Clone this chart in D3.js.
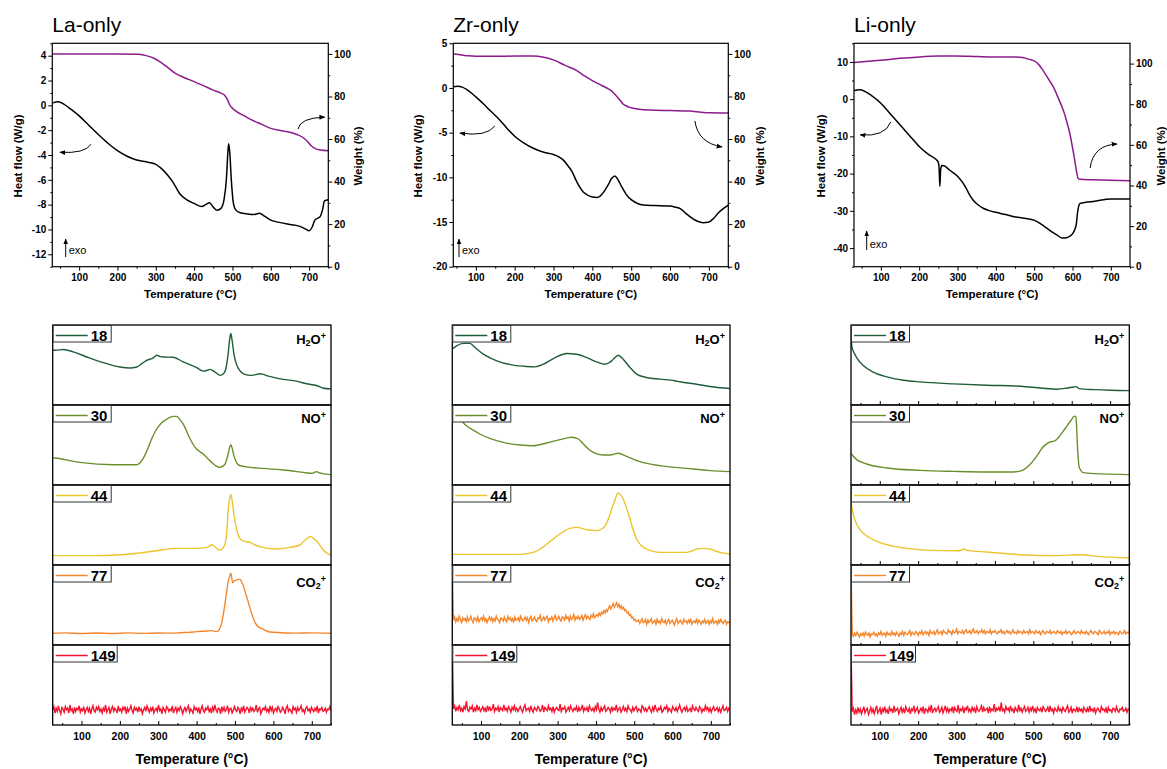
<!DOCTYPE html>
<html>
<head>
<meta charset="utf-8">
<script src="https://cdn.jsdelivr.net/npm/d3@7"></script>
<style>
body { margin: 0; background: #fff; }
text { font-family: Arial, "Liberation Sans", sans-serif; }
</style>
</head>
<body>
<svg id="fig" width="1167" height="769"></svg>
<script>
// ---- axis ticks ----
var tempMajor = [100, 200, 300, 400, 500, 600, 700];
var tempMinor = [50, 150, 250, 350, 450, 550, 650, 750];
var weightMajor = [0, 20, 40, 60, 80, 100];
var weightMinor = [10, 30, 50, 70, 90];
var laHeatMajor = [-12, -10, -8, -6, -4, -2, 0, 2, 4];
var laHeatMinor = [-13, -11, -9, -7, -5, -3, -1, 1, 3, 5];
var zrHeatMajor = [-20, -15, -10, -5, 0, 5];
var zrHeatMinor = [-17.5, -12.5, -7.5, -2.5, 2.5];
var liHeatMajor = [-40, -30, -20, -10, 0, 10];
var liHeatMinor = [-45, -35, -25, -15, -5, 5, 15];

// ---- TGA / DSC  [temperature, value] ----
var laHeat = [[32,0.2],[45,0.3],[60,0.1],[80,-0.35],[100,-0.85],[125,-1.6],[150,-2.35],[175,-3.05],[200,-3.65],[225,-4.1],[250,-4.4],[275,-4.55],[290,-4.65],[300,-4.75],[315,-5.1],[330,-5.6],[345,-6.2],[362,-7.1],[380,-7.6],[400,-7.9],[420,-8.15],[430,-8.0],[440,-7.85],[450,-8.2],[460,-8.45],[470,-8.3],[478,-7.6],[484,-6.0],[488,-3.8],[490,-3.1],[493,-3.8],[497,-6.0],[502,-7.8],[508,-8.4],[520,-8.65],[540,-8.75],[555,-8.8],[570,-8.7],[585,-8.95],[600,-9.25],[625,-9.45],[650,-9.6],[676,-9.75],[690,-9.95],[700,-10.1],[708,-9.8],[715,-9.25],[722,-9.1],[728,-9.0],[735,-8.4],[740,-7.7],[750,-7.6]];
var laWeight = [[30,100],[100,100],[200,100],[255,99.8],[275,99.2],[300,97.5],[325,94.5],[350,91],[375,88.8],[400,87],[425,85],[450,83],[470,81.6],[480,80.5],[487,78.5],[493,76],[500,74.5],[510,73],[530,71],[550,69],[575,67],[600,65],[625,64],[650,63.2],[670,62],[685,60.6],[695,59],[705,57],[715,55.6],[730,54.8],[750,54.5]];
var zrHeat = [[42,0.15],[54,0.2],[65,0.1],[76,-0.15],[100,-1],[120,-1.8],[136,-2.5],[162,-3.6],[180,-4.5],[200,-5.4],[225,-6.2],[248,-6.75],[275,-7.2],[300,-7.45],[315,-7.75],[326,-8.1],[337,-8.7],[347,-9.3],[360,-10.5],[376,-11.6],[390,-12.05],[400,-12.2],[412,-12.25],[420,-12.1],[430,-11.6],[440,-10.9],[450,-10.1],[458,-9.85],[465,-10.2],[475,-11.0],[487,-11.9],[500,-12.5],[515,-12.9],[532,-13.1],[560,-13.15],[600,-13.2],[615,-13.35],[626,-13.5],[640,-14.0],[651,-14.4],[665,-14.8],[685,-15.07],[700,-15],[712,-14.6],[724,-14],[737,-13.5],[750,-13.1]];
var zrWeight = [[42,100],[60,99.6],[80,99.1],[100,98.9],[150,98.9],[200,99],[248,99],[275,98.4],[300,97.2],[330,94.6],[360,92.2],[380,89.7],[400,87.5],[420,85.6],[437,84],[450,82.5],[459,80.8],[470,78.5],[479,76.5],[490,75.3],[500,74.7],[520,74],[550,73.6],[600,73.4],[650,73.2],[680,72.6],[700,72.3],[750,72.2]];
var liHeat = [[30,2.3],[45,2.5],[58,2.1],[75,1.0],[100,-1.1],[125,-4.0],[150,-6.9],[175,-9.8],[200,-12.7],[225,-14.9],[245,-16.3],[250,-17.0],[252,-18.5],[254,-23.4],[256,-19],[259,-17.8],[265,-17.9],[280,-19.1],[300,-20.7],[315,-22.6],[324,-24.2],[332,-25.8],[340,-27],[355,-28.5],[367,-29.3],[385,-30],[400,-30.4],[425,-31],[445,-31.5],[475,-32],[500,-32.5],[517,-33.5],[532,-34.6],[545,-35.6],[558,-36.4],[574,-37.3],[585,-37.2],[593,-36.8],[600,-36.2],[606,-35],[610,-33.5],[613,-30.6],[616,-28.8],[620,-28],[635,-27.7],[654,-27.5],[700,-26.8],[750,-26.8]];
var liWeight = [[30,100.5],[60,101],[98,101.6],[150,102.6],[202,103.3],[250,103.7],[297,103.8],[350,103.5],[400,103.3],[445,103.3],[470,103],[480,102.5],[490,102],[500,101.3],[512,99.5],[523,96.7],[537,92.5],[550,88.5],[563,83],[576,77],[585,71.5],[593,65.6],[604,54.5],[615,43.4],[619,43],[650,42.8],[700,42.6],[750,42.3]];

// ---- MS ion currents (a.u., 0-100 of each strip) ----
// smooth traces as [temperature, value]; noisy traces as values sampled evenly over 25-750 °C
var massNumbers = ["18", "30", "44", "77", "149"];
var la18 = [[25,68.5],[31,68.5],[53,69.3],[79,66.4],[114,60],[140,55.5],[166,51.7],[200,47.5],[226,46.2],[244,47.5],[258,52],[270,55.9],[287,58.8],[296,62.2],[305,60.5],[313,60],[339,59.7],[365,53.8],[400,46.6],[417,42.4],[428,43.5],[435,44.5],[448,41.2],[461,37],[470,39],[476,45],[482,64],[486,82],[489,89.5],[492,82],[497,64],[503,52],[509,45.4],[522,39],[543,37],[565,39],[590,35.7],[626,32],[660,29.8],[686,26.5],[712,24.4],[730,21],[750,20.2]];
var la30 = [[25,34],[31,33.75],[96,28.3],[183,25.4],[244,25.4],[257,30.4],[266,38],[274,47],[285,60],[296,70],[307,77],[318,81],[339,85.8],[348,85.8],[356,82],[365,76],[383,57.5],[396,47],[417,38.75],[439,28.3],[450,24],[459,22],[468,23.5],[474,26],[479,33],[482,38.75],[486,47],[489,50.4],[492,47],[497,36.7],[503,29],[509,25],[539,22],[574,20.8],[626,18.75],[678,15.8],[699,14.6],[706,15.5],[712,16.7],[718,15.5],[725,14.6],[750,13]];
var la44 = [[25,11.7],[140,11.7],[226,13.75],[296,17.9],[348,20.8],[400,20.8],[426,22],[434,24],[439,25.4],[448,22.9],[455,19.5],[461,18.75],[468,21],[474,26.25],[479,45],[482,68],[486,84],[489,88],[492,82],[497,63.75],[503,47],[509,36.7],[517,31],[526,29.6],[539,28.3],[552,25],[565,22.9],[600,20],[643,22],[669,25],[680,30],[686,32.5],[693,35],[698,35.8],[705,33],[712,30.4],[722,24],[730,18.75],[740,14.5],[750,12.5]];
var la77 = [[25,14.6],[60,15.2],[100,14.3],[140,15.0],[180,14.4],[220,15.1],[260,14.5],[300,15.0],[340,14.8],[357,15.4],[380,15.8],[400,16.7],[426,17.5],[439,18],[452,16.7],[458,19],[465,27],[470,40],[474,52],[478,66],[482,79],[486,86],[489,89.6],[491,85],[494,78],[498,80],[503,81],[508,82],[513,82],[518,78],[522,74],[526,66.7],[532,58],[539,45.8],[547,34],[556,25],[565,21.5],[574,19.6],[590,16.25],[620,15.4],[660,14.8],[700,15.2],[750,14.6]];
var la149 = [19,23,15,21,17,24,18,14,22,20,16,23,19,21,15,25,18,20,14,22,17,21,19,24,16,20,18,23,15,19,22,17,21,14,20,24,18,16,22,19,23,17,20,15,21,18,25,16,19,22,14,20,23,17,21,19,15,24,18,20,16,22,19,23,14,21,17,20,24,18,15,22,19,21,16,23,18,20,14,19,22,17,24,20,16,21,18,23,15,19,21,17,25,18,20,14,22,19,16,23,21,17,20,18,24,15,19,22,16,21,18,23,20,14,19,22,17,21,24,16,20,18,15,23,19,21,17,22,14,20,24,18,16,21,19,23,17,20,15,22,18,25,19,16,21,20,14,23,18,22,17,19,24,16,20,21,15,18,23,19,17,22,20,14,21,18,24,16,19,22,20,15,23,18,21,17,19,25,16,20,22,14,18,21,19,23,17,20,16,24,18,22,15,19,21,17,23,20,16,18,22,19,14,21,24,17,20,18,15,23,19,21,16,22,18,20,24,17,19,15,21,23,18,20,16,22,19,17,21,18,24,15,20,19,22,17,18,21,16,20,19,23,18];

var zr18 = [[25,70],[36,73.9],[54,77],[71,77],[84,71.8],[106,63.5],[141,55.2],[184,49.8],[219,48.1],[241,47.7],[263,51],[289,58],[324,64.3],[350,63.5],[376,59.3],[402,54],[424,51],[433,52.5],[441,55.2],[450,59.5],[458,62.2],[464,60.5],[471,57.3],[489,46.9],[506,38.6],[532,34.4],[567,32.4],[606,30.3],[619,29],[663,26],[698,23.2],[724,21.6],[750,20.7]];
var zr30 = [[25,90],[45,82],[62,74],[80,68.5],[97,63.75],[125,58],[158,53.3],[202,50],[236,49],[271,52.5],[306,56.7],[337,59.6],[354,57.5],[365,52.5],[376,47],[393,40.8],[419,37.5],[437,37.5],[458,39.6],[480,35.8],[515,29.2],[567,24.2],[637,20.8],[698,18],[750,16.7]];
var zr44 = [[25,13.3],[202,13.3],[236,15.8],[255,20],[271,26],[290,33],[306,38.75],[332,45.8],[350,47],[376,44],[402,43],[415,45],[424,49],[433,58],[441,70],[450,82],[458,90],[464,88],[471,82.5],[480,71],[489,57.5],[497,44],[506,32.5],[518,24.5],[532,20],[550,17],[567,15.8],[637,15.8],[650,17.5],[663,20],[680,20.8],[698,20],[712,17.5],[724,15.8],[750,13.75]];
var zr77 = [100,31,35,29,33,30,36,32,28,34,31,33,29,35,30,32,36,31,28,34,33,30,35,29,32,34,31,36,30,33,28,32,35,31,34,29,33,30,36,32,31,28,34,33,30,35,31,29,36,32,34,30,33,28,35,31,32,34,29,36,33,30,32,35,31,34,28,33,36,30,32,35,31,29,34,33,37,30,32,35,31,34,36,29,33,32,35,30,34,37,31,33,36,32,30,35,34,31,37,33,35,30,36,32,34,38,31,35,33,36,32,34,37,31,35,38,33,36,34,32,37,35,39,34,36,38,36,40,37,41,39,43,40,44,42,46,49,45,48,52,47,50,53,48,51,46,49,45,47,43,44,40,41,37,38,34,35,31,32,29,30,31,27,30,33,28,29,32,26,31,28,30,33,27,29,31,26,32,28,30,27,33,29,28,31,26,30,32,27,29,31,28,25,30,33,27,29,31,28,26,32,29,30,27,31,28,33,26,29,30,28,32,27,31,29,26,30,28,32,27,29,31,26,30,28,33,27,29,30,26,31,28,32,29,27,30,31,26,29,28,30];
var zr149 = [100,20,24,17,22,19,25,18,21,16,23,20,30,19,17,22,20,24,16,21,18,25,19,22,17,20,23,18,21,16,24,19,22,18,20,26,17,21,19,23,16,22,20,18,25,19,21,17,23,20,16,22,19,24,18,21,17,20,23,19,16,22,25,18,20,21,17,24,19,16,22,20,18,23,21,17,19,25,16,22,20,18,24,19,21,17,23,16,20,22,19,18,26,17,21,20,23,16,19,22,18,24,20,17,21,19,23,16,22,18,20,25,17,21,19,22,16,24,20,18,21,17,23,19,28,20,16,22,18,21,24,17,19,22,20,16,23,18,21,19,25,17,20,22,16,19,23,18,21,17,24,20,19,16,22,18,21,23,17,20,19,16,24,22,18,21,17,20,23,19,16,22,18,25,20,17,21,19,23,16,18,22,20,24,17,21,19,16,23,20,18,22,17,21,25,19,16,20,22,18,23,17,19,21,16,24,20,18,22,19,17,23,21,16,20,18,24,19,22,17,21,16,20,23,18,19,22,17,21,16,20,24,18,19,22,17,21,19];

var li18 = [[25,96],[27,73.6],[31,67.4],[40,59],[57,49.4],[83,41],[118,35.1],[162,31],[205,28.9],[293,26.4],[380,24.7],[467,23.4],[519,21.3],[563,19.7],[589,21.3],[605,22.5],[611,23],[619,20.5],[659,19.2],[702,18.4],[750,18]];
var li30 = [[25,40],[31,36],[40,31.7],[66,26.25],[118,21.25],[205,18.3],[293,17],[380,16.25],[449,16.25],[462,17],[475,19.2],[490,25],[502,31.7],[513,39],[523,46.25],[532,50.5],[541,53.3],[550,54.5],[558,55.8],[565,59],[571,63],[584,71.25],[593,77.5],[600,82],[606,85.8],[611,85.8],[613,70],[615,48],[617,33],[619,23.3],[623,19],[628,15.8],[659,14.2],[750,13]];
var li44 = [[25,80],[27,73.3],[35,56.7],[49,44],[75,33.75],[118,25.4],[170,20.8],[232,18.3],[301,17.9],[312,18.5],[319,20],[327,18.3],[380,16.25],[467,12.9],[554,11.7],[624,12.9],[667,10.8],[750,8.75]];
var li77 = [100,14,11,15,12,16,13,10,14,12,15,11,16,13,12,15,10,14,13,16,12,14,11,15,13,17,12,14,15,11,16,13,14,12,17,13,15,12,16,14,11,15,13,17,12,16,14,13,15,18,12,16,14,13,17,15,12,16,14,18,13,15,17,14,16,12,18,15,14,17,13,16,19,14,15,17,13,18,16,15,14,19,16,17,13,18,15,16,20,14,17,16,15,18,14,17,19,15,16,18,14,17,20,15,16,18,14,17,16,19,15,18,14,17,16,15,19,14,17,16,18,15,14,17,16,19,15,17,14,16,18,15,17,14,16,19,15,16,14,18,15,17,16,14,18,15,16,17,14,19,15,17,16,14,18,16,15,17,13,16,18,15,14,17,16,15,18,14,16,17,15,14,18,16,15,17,13,16,15,18,14,16,17,15,13,16,18,14,15,17,16,14,18,15,16,14,17,15,13,16,18,15,14,17,16,15,13,18,16,14,15,17,14,16,15,18,13,16,15,17,14,16,15,13,17,16,14,15,18,14,16,15,17];
var li149 = [100,17,21,13,19,15,22,16,20,14,18,23,15,19,21,13,17,22,16,20,14,19,24,15,18,21,13,20,17,23,16,19,14,22,18,20,15,24,17,19,21,14,18,22,16,20,15,23,19,17,21,14,20,18,24,16,19,22,15,18,21,17,23,14,20,19,16,22,18,25,15,19,21,17,20,23,16,18,22,15,19,24,17,21,16,20,18,23,15,22,19,17,25,16,20,18,22,15,21,19,24,17,20,16,22,18,21,15,23,19,17,20,24,16,22,18,19,21,15,23,17,20,18,26,16,21,19,22,17,28,18,20,16,23,19,21,17,24,18,20,15,22,19,17,25,18,21,16,20,23,17,19,22,16,21,18,24,17,20,15,22,19,18,21,16,23,20,17,19,22,16,24,18,20,15,21,19,17,23,18,20,16,22,19,17,21,24,16,18,22,15,20,19,17,23,16,21,18,20,15,22,19,17,21,16,24,18,20,17,22,15,19,21,18,16,23,19,20,17,21,15,22,18,19,16,21,20,17,23,18,16,20,19,22,17,18,21,16,20,19];

var msColors = ["#1e5d38", "#6b8f2b", "#ecc42c", "#f5862c", "#f5132e"];
var purple = "#8d1b8d";

var samples = [
  { title: "La-only", heat: laHeat, weight: laWeight, hDomain: [-13, 5], hMajor: laHeatMajor, hMinor: laHeatMinor,
    tDomain: [30, 750], wDomain: [0, 105], left: 52.3, right: 328.3, heatX: 18.3, weightX: 358.3,
    exoX: 65.7, exoY: [257, 239], exoText: 254,
    arrowHeat: [[131, -3.14], [115, -3.9], [50, -3.78]], arrowWeight: [[671, 64.7], [676, 70], [741, 70.3]],
    ms: [la18, la30, la44, la77, la149], msLeft: 52.7, msRight: 331, innerTicks: false },
  { title: "Zr-only", heat: zrHeat, weight: zrWeight, hDomain: [-20, 5], hMajor: zrHeatMajor, hMinor: zrHeatMinor,
    tDomain: [42, 750], wDomain: [0, 105], left: 453.3, right: 728.3, heatX: 418.3, weightX: 760,
    exoX: 459, exoY: [257, 239], exoText: 254,
    arrowHeat: [[149, -4.25], [128, -5.5], [59, -5.04]], arrowWeight: [[664, 68.5], [672, 58.1], [734, 56.3]],
    ms: [zr18, zr30, zr44, zr77, zr149], msLeft: 452.3, msRight: 730, innerTicks: false },
  { title: "Li-only", heat: liHeat, weight: liWeight, hDomain: [-45, 15], hMajor: liHeatMajor, hMinor: liHeatMinor,
    tDomain: [30, 750], wDomain: [0, 110], left: 854, right: 1130, heatX: 820.7, weightX: 1161,
    exoX: 866.7, exoY: [250, 231], exoText: 248,
    arrowHeat: [[126, -6.1], [111, -10.2], [46, -9.6]], arrowWeight: [[646, 48.6], [654, 59.9], [716, 60.4]],
    ms: [li18, li30, li44, li77, li149], msLeft: 851, msRight: 1129.3, innerTicks: true }
];

var ionLabels = [
  [{ t: "H" }, { t: "2", sub: true }, { t: "O" }, { t: "+", sup: true }],
  [{ t: "NO" }, { t: "+", sup: true }],
  null,
  [{ t: "CO" }, { t: "2", sub: true }, { t: "+", sup: true }],
  null
];
var ionDy = [19, 18, 0, 22, 0];

var svg = d3.select("#fig");
var defs = svg.append("defs");
defs.append("marker")
    .attr("id", "head")
    .attr("viewBox", "0 0 10 10")
    .attr("refX", 9).attr("refY", 5)
    .attr("markerWidth", 6).attr("markerHeight", 6)
    .attr("markerUnits", "userSpaceOnUse")
    .attr("orient", "auto")
    .append("path").attr("d", "M0,1 L10,5 L0,9 Z").attr("fill", "#000");

var topY0 = 43.3, topY1 = 266.7;
var num = function (d) { return String(d); };

function styleAxis(g, size) {
    g.select(".domain").remove();
    g.selectAll("line").attr("stroke", "#000").attr("stroke-width", 1);
    g.selectAll("text").attr("font-size", size).attr("font-weight", "bold")
        .attr("font-family", "Arial, 'Liberation Sans', sans-serif").attr("fill", "#000");
}

samples.forEach(function (s, si) {
    // ---------- top: DSC + TGA ----------
    var x = d3.scaleLinear().domain(s.tDomain).range([s.left, s.right]);
    var yH = d3.scaleLinear().domain(s.hDomain).range([topY1, topY0]);
    var yW = d3.scaleLinear().domain(s.wDomain).range([topY1, topY0]);

    svg.append("text").attr("x", s.left).attr("y", 32)
        .attr("font-size", 21).text(s.title);

    var clipId = "clipTop" + si;
    defs.append("clipPath").attr("id", clipId).append("rect")
        .attr("x", s.left).attr("y", topY0).attr("width", s.right - s.left).attr("height", topY1 - topY0);

    var line = d3.line().curve(d3.curveMonotoneX);
    var plot = svg.append("g").attr("clip-path", "url(#" + clipId + ")");
    plot.append("path")
        .attr("d", line.x(function (d) { return x(d[0]); }).y(function (d) { return yW(d[1]); })(s.weight))
        .attr("fill", "none").attr("stroke", purple).attr("stroke-width", 1.5);
    plot.append("path")
        .attr("d", line.x(function (d) { return x(d[0]); }).y(function (d) { return yH(d[1]); })(s.heat))
        .attr("fill", "none").attr("stroke", "#000").attr("stroke-width", 1.5);

    // axes
    svg.append("g").attr("transform", "translate(0," + topY1 + ")")
        .call(d3.axisBottom(x).tickValues(tempMajor).tickSize(4).tickPadding(3).tickFormat(num))
        .call(styleAxis, 10);
    svg.append("g").attr("transform", "translate(0," + topY1 + ")")
        .call(d3.axisBottom(x).tickValues(tempMinor.filter(function (t) { return t > s.tDomain[0]; })).tickSize(2).tickFormat(""))
        .call(styleAxis, 10);
    svg.append("g").attr("transform", "translate(" + s.left + ",0)")
        .call(d3.axisLeft(yH).tickValues(s.hMajor).tickSize(4).tickPadding(2).tickFormat(num))
        .call(styleAxis, 10);
    svg.append("g").attr("transform", "translate(" + s.left + ",0)")
        .call(d3.axisLeft(yH).tickValues(s.hMinor).tickSize(2).tickFormat(""))
        .call(styleAxis, 10);
    svg.append("g").attr("transform", "translate(" + s.right + ",0)")
        .call(d3.axisRight(yW).tickValues(weightMajor).tickSize(4).tickPadding(2).tickFormat(num))
        .call(styleAxis, 10);
    svg.append("g").attr("transform", "translate(" + s.right + ",0)")
        .call(d3.axisRight(yW).tickValues(weightMinor).tickSize(2).tickFormat(""))
        .call(styleAxis, 10);
    svg.append("rect").attr("x", s.left).attr("y", topY0)
        .attr("width", s.right - s.left).attr("height", topY1 - topY0)
        .attr("fill", "none").attr("stroke", "#000").attr("stroke-width", 1.2);

    svg.append("text").attr("x", (s.left + s.right) / 2).attr("y", 298)
        .attr("text-anchor", "middle").attr("font-size", 11.5).attr("font-weight", "bold")
        .text("Temperature (°C)");
    svg.append("text").attr("transform", "translate(" + s.heatX + ",156) rotate(-90)")
        .attr("dy", "0.35em").attr("text-anchor", "middle").attr("font-size", 11.5).attr("font-weight", "bold")
        .text("Heat flow (W/g)");
    svg.append("text").attr("transform", "translate(" + s.weightX + ",156) rotate(-90)")
        .attr("dy", "0.35em").attr("text-anchor", "middle").attr("font-size", 11.5).attr("font-weight", "bold")
        .text("Weight (%)");

    // curved arrows pointing to each axis
    [[s.arrowHeat, yH], [s.arrowWeight, yW]].forEach(function (a) {
        var p = a[0], sc = a[1];
        svg.append("path")
            .attr("d", "M" + x(p[0][0]) + "," + sc(p[0][1]) + " Q" + x(p[1][0]) + "," + sc(p[1][1]) +
                " " + x(p[2][0]) + "," + sc(p[2][1]))
            .attr("fill", "none").attr("stroke", "#000").attr("stroke-width", 1)
            .attr("marker-end", "url(#head)");
    });

    // exo marker
    svg.append("line").attr("x1", s.exoX).attr("x2", s.exoX)
        .attr("y1", s.exoY[0]).attr("y2", s.exoY[1])
        .attr("stroke", "#000").attr("stroke-width", 1).attr("marker-end", "url(#head)");
    svg.append("text").attr("x", s.exoX + 3).attr("y", s.exoText)
        .attr("font-size", 11).text("exo");

    // ---------- bottom: MS strips ----------
    var xm = d3.scaleLinear().domain([25, 750]).range([s.msLeft, s.msRight]);
    s.ms.forEach(function (series, k) {
        var top = 325 + k * 80, bot = top + 80;
        var ym = d3.scaleLinear().domain([0, 100]).range([bot, top]);
        var noisy = typeof series[0] === "number";
        var pts = noisy
            ? series.map(function (v, i) { return [25 + i * 725 / (series.length - 1), v]; })
            : series;
        var cid = "clipMs" + si + "_" + k;
        defs.append("clipPath").attr("id", cid).append("rect")
            .attr("x", s.msLeft).attr("y", top).attr("width", s.msRight - s.msLeft).attr("height", 80);
        svg.append("path")
            .attr("clip-path", "url(#" + cid + ")")
            .attr("d", d3.line().curve(noisy ? d3.curveLinear : d3.curveMonotoneX)
                .x(function (d) { return xm(d[0]); }).y(function (d) { return ym(d[1]); })(pts))
            .attr("fill", "none").attr("stroke", msColors[k]).attr("stroke-width", 1.4);

        if (s.innerTicks && k < 4) {
            svg.append("g").attr("transform", "translate(0," + bot + ")")
                .call(d3.axisBottom(xm).tickValues(tempMajor).tickSize(-4).tickFormat(""))
                .call(styleAxis, 10);
            svg.append("g").attr("transform", "translate(0," + bot + ")")
                .call(d3.axisBottom(xm).tickValues(tempMinor).tickSize(-2).tickFormat(""))
                .call(styleAxis, 10);
        }

        svg.append("rect").attr("x", s.msLeft).attr("y", top)
            .attr("width", s.msRight - s.msLeft).attr("height", 80)
            .attr("fill", "none").attr("stroke", "#000").attr("stroke-width", 1.3);

        // legend box
        var bw = massNumbers[k].length > 2 ? 64 : 58;
        svg.append("rect").attr("x", s.msLeft + 0.5).attr("y", top + 0.5)
            .attr("width", bw).attr("height", 16.5)
            .attr("fill", "#fff").attr("stroke", "#333").attr("stroke-width", 1);
        svg.append("line").attr("x1", s.msLeft + 3).attr("x2", s.msLeft + 35)
            .attr("y1", top + 10.5).attr("y2", top + 10.5)
            .attr("stroke", msColors[k]).attr("stroke-width", 1.4);
        svg.append("text").attr("x", s.msLeft + 38).attr("y", top + 15.5)
            .attr("font-size", 15).attr("font-weight", "bold").text(massNumbers[k]);

        if (ionLabels[k]) {
            var t = svg.append("text").attr("x", s.msRight - 5).attr("y", top + ionDy[k])
                .attr("text-anchor", "end").attr("font-size", 13).attr("font-weight", "bold");
            ionLabels[k].forEach(function (seg) {
                var ts = t.append("tspan").text(seg.t);
                if (seg.sub) ts.attr("font-size", 9).attr("baseline-shift", "-25%");
                if (seg.sup) ts.attr("font-size", 9).attr("baseline-shift", "55%");
            });
        }
    });

    var axisY = 325 + 5 * 80;
    svg.append("g").attr("transform", "translate(0," + axisY + ")")
        .call(d3.axisBottom(xm).tickValues(tempMajor).tickSize(-4).tickPadding(8).tickFormat(num))
        .call(styleAxis, 10.5);
    svg.append("g").attr("transform", "translate(0," + axisY + ")")
        .call(d3.axisBottom(xm).tickValues(tempMinor).tickSize(-2).tickFormat(""))
        .call(styleAxis, 10.5);
    svg.append("text").attr("x", (s.msLeft + s.msRight) / 2).attr("y", 764)
        .attr("text-anchor", "middle").attr("font-size", 14).attr("font-weight", "bold")
        .text("Temperature (°C)");
});
</script>
</body>
</html>
